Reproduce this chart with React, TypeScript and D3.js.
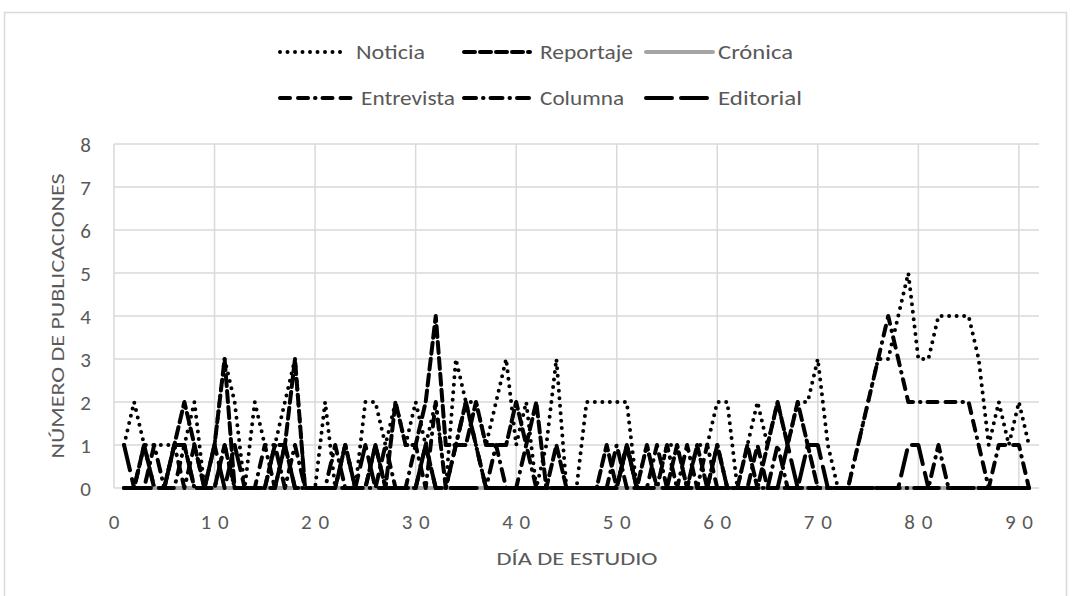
import React from 'react';
import * as d3 from 'd3';

// días 1..91
const days: number[] = d3.range(1, 92);

const noticia = [
  1, 2, 1, 1, 1, 1, 1, 2, 0, 1,
  3, 2, 0, 2, 1, 1, 2, 3, 0, 0,
  2, 0, 1, 0, 2, 2, 1, 2, 1, 2,
  1, 2, 0, 3, 2, 2, 1, 2, 3, 1,
  2, 0, 1, 3, 0, 0, 2, 2, 2, 2,
  2, 0, 1, 0, 1, 1, 0, 1, 1, 2,
  2, 0, 1, 2, 1, 2, 1, 2, 2, 3,
  1, 0, 0, 1, 2, 3, 3, 4, 5, 3,
  3, 4, 4, 4, 4, 3, 1, 2, 1, 2,
  1,
];
const reportaje = [
  0, 0, 1, 0, 0, 1, 2, 1, 0, 1,
  3, 0, 0, 0, 0, 1, 1, 3, 0, 0,
  0, 0, 1, 0, 0, 1, 0, 2, 1, 1,
  2, 4, 1, 1, 1, 2, 1, 1, 1, 2,
  1, 2, 0, 1, 0, 0, 0, 0, 1, 0,
  1, 0, 1, 0, 0, 1, 0, 1, 0, 1,
  0, 0, 1, 0, 1, 2, 1, 2, 1, 0,
  0, 0, 0, 0, 0, 0, 0, 0, 0, 0,
  0, 0, 0, 0, 0, 0, 0, 0, 0, 0,
  0,
];
const cronica = days.map(() => 0);
const entrevista = [
  0, 0, 1, 0, 0, 1, 0, 1, 0, 0,
  1, 0, 0, 0, 1, 0, 1, 0, 0, 0,
  0, 0, 1, 0, 0, 1, 0, 0, 0, 1,
  0, 2, 0, 1, 2, 1, 0, 0, 0, 0,
  0, 0, 0, 0, 0, 0, 0, 0, 0, 0,
  1, 0, 0, 1, 0, 0, 1, 0, 1, 0,
  0, 0, 0, 1, 0, 0, 0, 0, 0, 0,
  0, 0, 0, 1, 2, 3, 4, 3, 2, 2,
  2, 2, 2, 2, 2, 1, 0, 1, 1, 1,
  0,
];
const columna = [
  0, 0, 0, 1, 0, 0, 1, 0, 0, 0,
  1, 0, 0, 0, 0, 1, 0, 1, 0, 0,
  0, 1, 0, 0, 0, 0, 1, 0, 0, 0,
  1, 0, 0, 1, 2, 1, 0, 1, 0, 0,
  1, 0, 0, 0, 0, 0, 0, 0, 0, 1,
  0, 0, 0, 0, 1, 0, 0, 0, 0, 1,
  0, 0, 0, 0, 0, 1, 0, 0, 0, 0,
  0, 0, 0, 0, 0, 0, 0, 0, 0, 0,
  0, 1, 0, 0, 0, 0, 0, 0, 0, 0,
  0,
];
const editorial = [
  1, 0, 0, 0, 0, 1, 1, 0, 0, 1,
  0, 1, 0, 0, 0, 0, 1, 0, 0, 0,
  0, 0, 0, 0, 1, 0, 0, 0, 0, 0,
  1, 0, 0, 0, 0, 0, 0, 0, 0, 0,
  0, 0, 0, 0, 0, 0, 0, 0, 0, 0,
  1, 0, 0, 0, 0, 0, 0, 0, 0, 0,
  0, 0, 0, 0, 0, 0, 1, 0, 1, 1,
  0, 0, 0, 0, 0, 0, 0, 0, 1, 1,
  0, 0, 0, 0, 0, 0, 0, 0, 0, 0,
  0,
];

const xTicks = [0, 10, 20, 30, 40, 50, 60, 70, 80, 90];
const yTicks = [0, 1, 2, 3, 4, 5, 6, 7, 8];

type Serie = { name: string; values: number[]; color: string; width: number; dash: string };

const series: Serie[] = [
  { name: 'Noticia', values: noticia, color: '#000', width: 4, dash: '0 7.5' },
  { name: 'Reportaje', values: reportaje, color: '#000', width: 4, dash: '11 5' },
  { name: 'Crónica', values: cronica, color: '#a5a5a5', width: 4, dash: 'none' },
  { name: 'Entrevista', values: entrevista, color: '#000', width: 4, dash: '10 8 10 7 0.5 7' },
  { name: 'Columna', values: columna, color: '#000', width: 4, dash: '12 7 0.5 7' },
  { name: 'Editorial', values: editorial, color: '#000', width: 4, dash: '26 9' },
];

const FONT = "Carlito, 'Open Sans', sans-serif";
const TXT = '#595959';

// posiciones de la leyenda (línea, texto, ancho del texto)
const legendPos = [
  { lx: 280, len: 62, tx: 356, tw: 69, ly: 52 },
  { lx: 464, len: 66, tx: 540, tw: 93, ly: 52 },
  { lx: 646, len: 67, tx: 718, tw: 75, ly: 52 },
  { lx: 280, len: 74, tx: 361, tw: 94, ly: 98 },
  { lx: 464, len: 69, tx: 540, tw: 84, ly: 98 },
  { lx: 646, len: 69, tx: 718, tw: 84, ly: 98 },
];

export default function App() {
  const x = d3.scaleLinear().domain([0, 92]).range([114, 1039]);
  const y = d3.scaleLinear().domain([0, 8]).range([488, 144]);

  const line = (vals: number[]) =>
    d3.line<number>().x((_, i) => x(days[i])).y((d) => y(d))(vals) || '';

  return (
    <svg width={1072} height={596} style={{ position: 'absolute', left: 0, top: 0, background: '#fff' }}>
      <rect x={4.5} y={12.5} width={1062} height={600} fill="#fff" stroke="#d9d9d9" strokeWidth={1.5} />
      {yTicks.map((t) => (
        <line key={'gy' + t} x1={x(0)} x2={x(92)} y1={y(t)} y2={y(t)} stroke="#d9d9d9" strokeWidth={1.5} />
      ))}
      {xTicks.map((t) => (
        <line key={'gx' + t} x1={x(t)} x2={x(t)} y1={y(0)} y2={y(8)} stroke="#d9d9d9" strokeWidth={1.5} />
      ))}
      {yTicks.map((t) => (
        <text key={'ty' + t} x={91} y={y(t)} dy="0.36em" textAnchor="end" fontFamily={FONT} fontSize={21} fill={TXT}>
          {t}
        </text>
      ))}
      {xTicks.map((t) => (
        <text
          key={'tx' + t}
          x={x(t)}
          y={521}
          dy="0.36em"
          textAnchor="middle"
          fontFamily={FONT}
          fontSize={21}
          fill={TXT}
          textLength={t === 0 ? undefined : 28}
          lengthAdjust="spacing"
        >
          {t}
        </text>
      ))}
      <text x={577} y={558} dy="0.36em" textAnchor="middle" fontFamily={FONT} fontSize={19} fill={TXT} textLength={161} lengthAdjust="spacingAndGlyphs">
        DÍA DE ESTUDIO
      </text>
      <text
        transform="translate(57,316) rotate(-90)"
        dy="0.36em"
        textAnchor="middle"
        fontFamily={FONT}
        fontSize={19}
        fill={TXT}
        textLength={285}
        lengthAdjust="spacingAndGlyphs"
      >
        NÚMERO DE PUBLICACIONES
      </text>
      {series.map((s) => (
        <path
          key={s.name}
          d={line(s.values)}
          fill="none"
          stroke={s.color}
          strokeWidth={s.width}
          strokeDasharray={s.dash}
          strokeLinecap="round"
          strokeLinejoin="round"
        />
      ))}
      {series.map((s, i) => (
        <g key={'lg' + s.name}>
          <line
            x1={legendPos[i].lx}
            x2={legendPos[i].lx + legendPos[i].len}
            y1={legendPos[i].ly}
            y2={legendPos[i].ly}
            stroke={s.color}
            strokeWidth={s.width}
            strokeDasharray={s.dash}
            strokeLinecap="round"
          />
          <text
            x={legendPos[i].tx}
            y={legendPos[i].ly}
            dy="0.36em"
            fontFamily={FONT}
            fontSize={20}
            fill={TXT}
            textLength={legendPos[i].tw}
            lengthAdjust="spacingAndGlyphs"
          >
            {s.name}
          </text>
        </g>
      ))}
    </svg>
  );
}
